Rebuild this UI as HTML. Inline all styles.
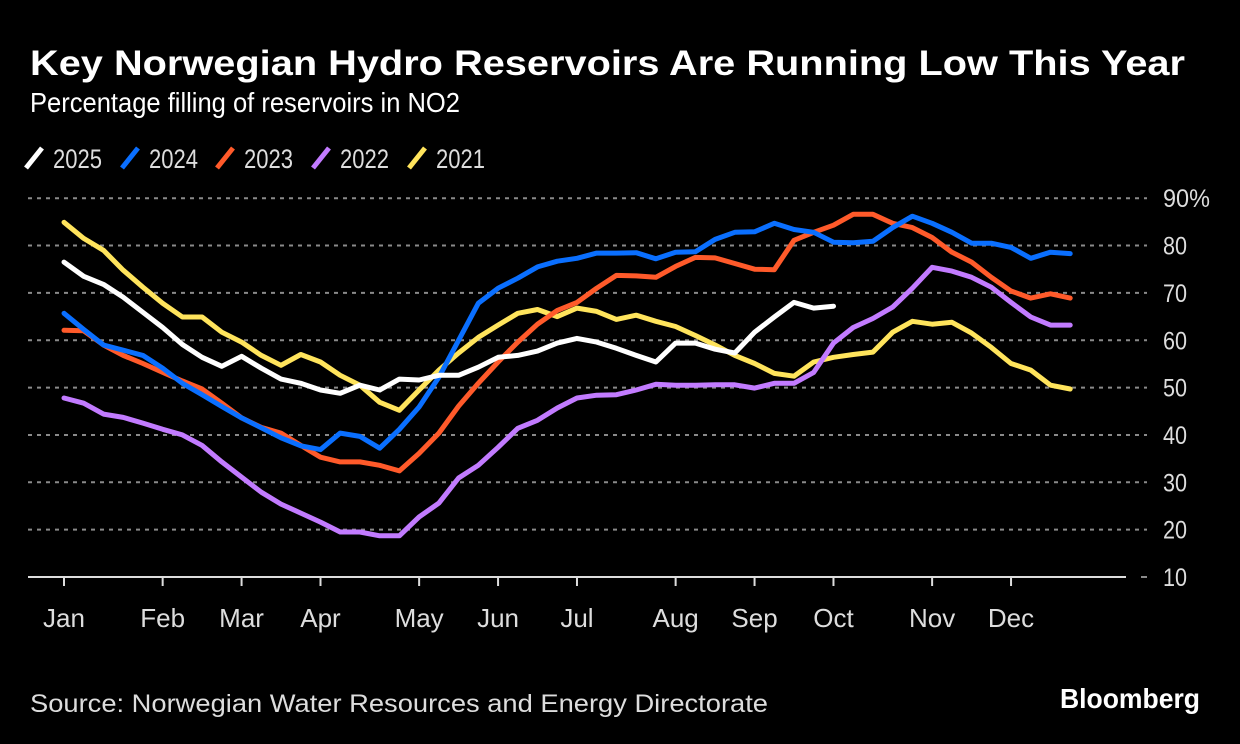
<!DOCTYPE html>
<html><head><meta charset="utf-8">
<style>
html,body{margin:0;padding:0;background:#000;}
svg{display:block;}
text{font-family:"Liberation Sans","DejaVu Sans",sans-serif;}
</style></head>
<body>
<svg id="chart" width="1240" height="744" viewBox="0 0 1240 744">
<rect x="0" y="0" width="1240" height="744" fill="#000"/>
<text x="30" y="75" font-size="35" font-weight="bold" fill="#fff" textLength="1155" lengthAdjust="spacingAndGlyphs">Key Norwegian Hydro Reservoirs Are Running Low This Year</text>
<text x="30" y="112" font-size="28" fill="#fff" textLength="430" lengthAdjust="spacingAndGlyphs">Percentage filling of reservoirs in NO2</text>
<g id="legend"></g>
<g id="grid"></g>
<g id="xaxis"></g>
<g id="yaxis"></g>
<g id="series"></g>
<text x="30" y="712" font-size="25" fill="#ddd" textLength="738" lengthAdjust="spacingAndGlyphs">Source: Norwegian Water Resources and Energy Directorate</text>
<text x="1200" y="708" font-size="28" font-weight="bold" fill="#fff" text-anchor="end" textLength="140" lengthAdjust="spacingAndGlyphs">Bloomberg</text>
</svg>
<script>
const monthLabels=["Jan","Feb","Mar","Apr","May","Jun","Jul","Aug","Sep","Oct","Nov","Dec"];
const monthWeeks=[0,5,9,13,18,22,26,31,35,39,44,48];
const yTicks=[10,20,30,40,50,60,70,80,90];
const seriesNames=["2025","2024","2023","2022","2021"];
const seriesColors=["#ffffff","#0a6fff","#ff5a2a","#c27bff","#ffe45c"];
const v2025=[76.5,73.5,71.8,69.1,65.9,62.7,59.1,56.4,54.5,56.6,54.1,51.8,50.9,49.5,48.8,50.5,49.5,51.8,51.6,52.6,52.6,54.3,56.4,56.8,57.7,59.4,60.4,59.6,58.3,56.8,55.4,59.4,59.4,58.1,57.3,61.7,64.9,68,66.8,67.2];
const v2024=[65.7,62.3,59,57.9,56.8,54.1,50.9,48.5,46,43.6,41.5,39.4,37.7,36.9,40.4,39.7,37.2,41.2,45.9,52.2,60,67.8,71,73.1,75.5,76.7,77.3,78.4,78.4,78.5,77.2,78.6,78.7,81.3,82.8,82.9,84.7,83.4,82.8,80.7,80.6,80.9,83.8,86.2,84.7,82.8,80.5,80.5,79.6,77.3,78.6,78.3];
const v2023=[62.1,62,59,56.8,55.1,53.2,51.4,49.7,46.7,43.6,41.6,40.4,37.8,35.3,34.3,34.3,33.6,32.4,36.1,40.4,46.1,50.9,55.4,59.6,63.4,66.3,68,71,73.7,73.6,73.3,75.6,77.5,77.4,76.2,75,74.9,81.1,82.8,84.3,86.6,86.6,84.7,83.8,81.7,78.6,76.5,73.3,70.4,68.9,69.8,68.9];
const v2022=[47.8,46.7,44.4,43.7,42.5,41.2,40,37.8,34.3,31.1,27.9,25.4,23.5,21.6,19.5,19.5,18.7,18.7,22.7,25.6,30.9,33.6,37.4,41.4,43.1,45.7,47.8,48.4,48.5,49.5,50.7,50.5,50.5,50.6,50.6,49.9,50.9,50.9,53.2,59.4,62.7,64.6,67,71,75.4,74.6,73.3,71.2,68,64.9,63.2,63.2];
const v2021=[84.9,81.5,79,74.8,71.2,67.8,64.9,64.9,61.7,59.6,56.8,54.7,57,55.4,52.6,50.5,46.9,45.2,49.5,53.7,57.3,60.6,63.2,65.7,66.5,65,66.8,66.1,64.4,65.3,64,62.9,61,59,56.8,55.1,53,52.4,55.4,56.4,57,57.5,61.7,64,63.4,63.8,61.5,58.5,55.1,53.7,50.5,49.7];
const seriesData=[v2025,v2024,v2023,v2022,v2021];

const NS="http://www.w3.org/2000/svg";
const X0=64,XSTEP=19.73,Y10=577,PER10=47.35;
function xs(w){return X0+w*XSTEP;}
function ys(v){return Y10-(v-10)/10*PER10;}
function mk(tag,attrs,parent){const e=document.createElementNS(NS,tag);for(const k in attrs)e.setAttribute(k,attrs[k]);parent.appendChild(e);return e;}

const grid=document.getElementById('grid');
const yaxis=document.getElementById('yaxis');
yTicks.forEach((t,i)=>{
  if(t>10){
    const l=mk('line',{x1:28,x2:1147,y1:ys(t),y2:ys(t),stroke:'#8a8a8a','stroke-width':2,'stroke-dasharray':'4 5'},grid);
    
    
  } else {
    const l=mk('line',{x1:1141,x2:1147,y1:ys(t),y2:ys(t),stroke:'#8a8a8a','stroke-width':2},grid);
    
    
  }
  const tx=mk('text',{x:1163,y:ys(t)+9,'font-size':25,fill:'#ddd',textLength:(t===90?47:24),lengthAdjust:'spacingAndGlyphs'},yaxis);
  tx.textContent=t+(t===90?'%':'');
  
  
});

const xaxis=document.getElementById('xaxis');
const ax=mk('line',{x1:28,x2:1126,y1:Y10,y2:Y10,stroke:'#ddd','stroke-width':2},xaxis);


monthLabels.forEach((m,i)=>{
  const x=xs(monthWeeks[i]);
  const t=mk('line',{x1:x,x2:x,y1:Y10,y2:Y10+9,stroke:'#ddd','stroke-width':2},xaxis);
  
  
  const tx=mk('text',{x:x,y:627,'font-size':26,fill:'#ddd','text-anchor':'middle'},xaxis);
  tx.textContent=m;
  
  
});

const series=document.getElementById('series');
for(let s=seriesData.length-1;s>=0;s--){
  const d=seriesData[s].map((v,i)=>(i?'L':'M')+xs(i).toFixed(1)+','+ys(v).toFixed(1)).join('');
  const p=mk('path',{d:d,fill:'none',stroke:seriesColors[s],'stroke-width':5,'stroke-linejoin':'round','stroke-linecap':'round'},series);
  
  
}

const legend=document.getElementById('legend');
const legX=[24,120,215,311,407];
seriesNames.forEach((n,i)=>{
  const g=mk('g',{},legend);
  
  
  const l=mk('line',{x1:legX[i]+2,y1:168,x2:legX[i]+18,y2:148,stroke:seriesColors[i],'stroke-width':5},g);
  
  
  const t=mk('text',{x:legX[i]+29,y:168,'font-size':27,fill:'#ddd',textLength:49,lengthAdjust:'spacingAndGlyphs'},g);
  t.textContent=n;
  
  
});
</script>
</body></html>
